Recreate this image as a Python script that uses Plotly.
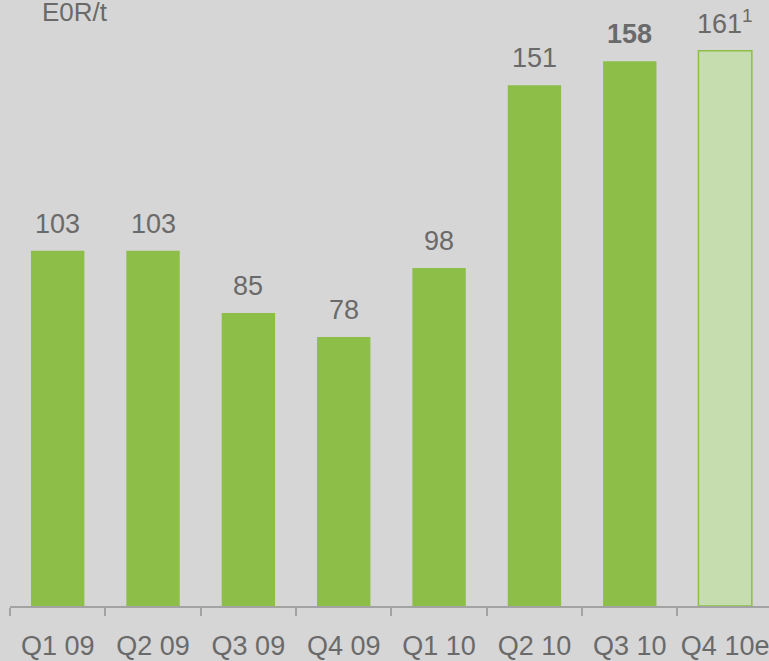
import plotly.graph_objects as go

# Quarterly price, EUR per tonne
quarters = ["Q1 09", "Q2 09", "Q3 09", "Q4 09", "Q1 10", "Q2 10", "Q3 10", "Q4 10e"]
values = [103, 103, 85, 78, 98, 151, 158, 161]
value_labels = ["103", "103", "85", "78", "98", "151", "<b>158</b>", "161<sup>1</sup>"]
is_estimate = [False, False, False, False, False, False, False, True]

GREEN = "#8dbe48"
LIGHT_GREEN = "#c6ddb0"
BG = "#d6d6d6"
TEXT = "#6a6a6a"
AXIS = "#a3a3a3"
FONT = "Liberation Sans, Arial, sans-serif"

fills = [LIGHT_GREEN if e else GREEN for e in is_estimate]
X_RANGE = [-0.5, 7.46]

fig = go.Figure()
fig.add_trace(
    go.Bar(
        x=quarters,
        y=values,
        marker=dict(color=fills, line=dict(color=GREEN, width=[1.5 if e else 0 for e in is_estimate])),
        width=0.56,
        hoverinfo="skip",
    )
)
# invisible copy on the label axis so its categories line up with the bars
fig.add_trace(
    go.Bar(x=quarters, y=values, xaxis="x2", opacity=0, width=0.56, hoverinfo="skip")
)

for q, v, lab in zip(quarters, values, value_labels):
    fig.add_annotation(
        x=q, y=v, text=lab, showarrow=False, yanchor="bottom", yshift=10,
        font=dict(family=FONT, size=27, color=TEXT),
    )

fig.add_annotation(
    xref="paper", yref="paper", x=0.04, y=1.0, xanchor="left", yanchor="top",
    text="E0R/t", showarrow=False, yshift=5,
    font=dict(family=FONT, size=26, color=TEXT),
)

fig.update_layout(
    width=769, height=661,
    margin=dict(l=10, r=0, t=0, b=55),
    paper_bgcolor=BG, plot_bgcolor=BG,
    showlegend=False, barmode="overlay",
    xaxis=dict(
        type="category",
        range=X_RANGE, showgrid=False, zeroline=False,
        showline=True, linecolor=AXIS, linewidth=2,
        ticks="outside", ticklen=8, tickcolor=AXIS, tickwidth=2,
        tickson="boundaries", showticklabels=False,
    ),
    xaxis2=dict(
        type="category", overlaying="x", anchor="y", side="bottom",
        range=X_RANGE, showgrid=False, zeroline=False, showline=False,
        ticks="outside", ticklen=16, tickcolor="rgba(0,0,0,0)",
        ticklabeloverflow="allow",
        tickfont=dict(family=FONT, size=27, color=TEXT),
    ),
    yaxis=dict(range=[0, 175.75], visible=False, showgrid=False, zeroline=False),
)

fig.write_html("out.html")
